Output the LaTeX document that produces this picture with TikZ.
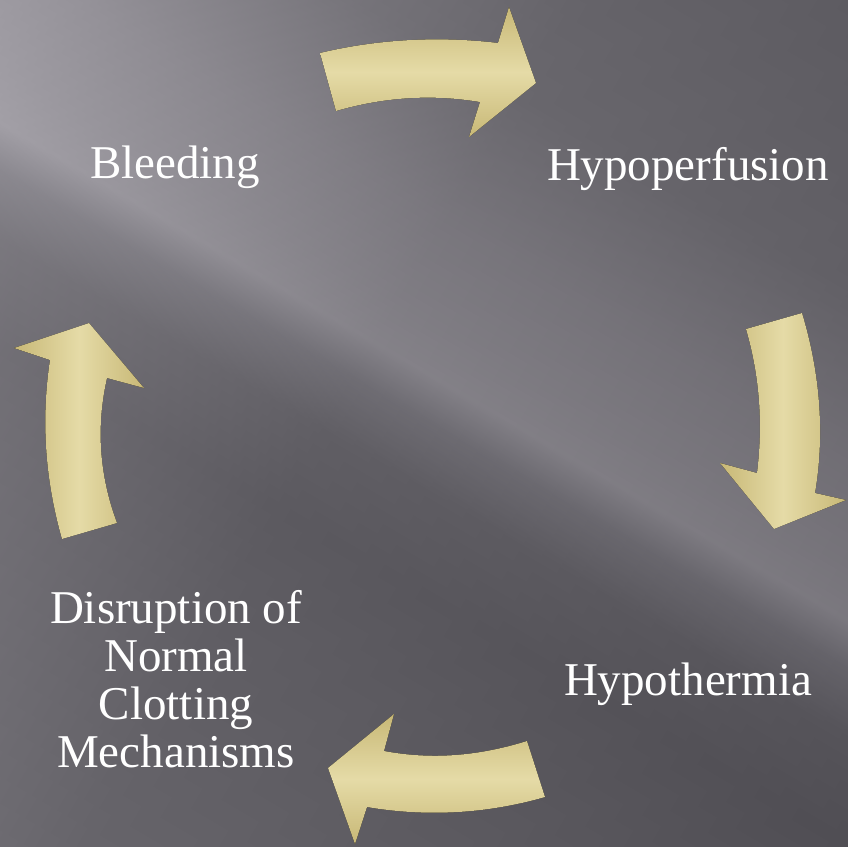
\documentclass[tikz,border=0pt]{standalone}
\usepackage{fontspec}
\setmainfont{Liberation Serif}
\usepackage{xcolor}
\usepackage{tikz}

\definecolor{bgA}{RGB}{100,98,104}
\definecolor{bgB}{RGB}{86,84,90}
\definecolor{bgC}{RGB}{80,78,84}
\definecolor{bgD}{RGB}{88,86,92}
\definecolor{bgE}{RGB}{112,110,117}
\definecolor{bgF}{RGB}{148,145,152}
\definecolor{bgG}{RGB}{140,137,144}
\definecolor{bgH}{RGB}{128,125,132}
\definecolor{bgI}{RGB}{102,100,106}
\definecolor{bgJ}{RGB}{88,86,92}
\definecolor{swA}{RGB}{195,192,199}
\definecolor{swB}{RGB}{110,108,114}
\definecolor{swC}{RGB}{80,78,84}
\definecolor{goldD}{RGB}{200,184,118}
\definecolor{goldL}{RGB}{229,219,167}

% streak across the slide, and the sweep along it
\pgfdeclareverticalshading{bgstreak}{100bp}{color(0bp)=(bgA); color(24bp)=(bgA);
  color(37.5bp)=(bgB); color(42bp)=(bgC); color(45.8bp)=(bgD); color(48.3bp)=(bgE);
  color(50bp)=(bgF); color(52bp)=(bgG); color(56bp)=(bgH); color(62bp)=(bgI);
  color(74bp)=(bgJ); color(100bp)=(bgJ)}
\pgfdeclarehorizontalshading{bgsweep}{100bp}{color(0bp)=(swA); color(26.8bp)=(swA);
  color(47.6bp)=(swB); color(75bp)=(swC); color(100bp)=(swC)}

\begin{document}
\begin{tikzpicture}[x=1pt,y=-1pt,
  lbl/.style={text=white,font=\fontsize{47}{48}\selectfont,inner sep=0pt},
  goldh/.style={top color=goldD,bottom color=goldD,middle color=goldL},
  goldv/.style={left color=goldD,right color=goldD,middle color=goldL}]
  \useasboundingbox (0,0) rectangle (848,846);

  % background
  \begin{scope}
    \clip (0,0) rectangle (848,846);
    \shade[shading=bgstreak,shading angle=-30.4] (-176,-228) rectangle (1024,972);
    \shade[shading=bgsweep,shading angle=-30.4,opacity=0.4] (-176,-228) rectangle (1024,972);
  \end{scope}

  % block arrows of the cycle
  \fill[goldh] (320,53) .. controls (379,39) and (439,36) .. (498,43)
    -- (509,7) -- (536,83) -- (469,137) -- (480,102)
    .. controls (432,94) and (384,97) .. (336,111) -- cycle;
  \fill[goldv] (746,329) -- (802,313) .. controls (820,373) and (825,433) .. (815,493)
    -- (846,500) -- (774,529) -- (720,463) -- (757,473)
    .. controls (763,425) and (760,377) .. (746,329) -- cycle;
  \fill[goldh] (527,741) -- (545,797) .. controls (486,814) and (426,817) .. (367,807)
    -- (355,844) -- (328,768) -- (394,714) -- (384,751)
    .. controls (432,760) and (479,756) .. (527,741) -- cycle;
  \fill[goldv] (62,539) -- (117,523) .. controls (99,475) and (96,426) .. (107,378)
    -- (144,388) -- (89,323) -- (14,348) -- (50,360)
    .. controls (41,420) and (45,479) .. (62,539) -- cycle;

  % labels
  \node[lbl,anchor=base] (bleeding) at (175,178) {Bleeding};
  \node[lbl,anchor=base] (hypoperf) at (688,180) {Hypoperfusion};
  \node[lbl,anchor=base] (hypotherm) at (688,695) {Hypothermia};
  \node[lbl,align=center,anchor=base] (disrupt) at (176,767)
    {Disruption of\\Normal\\Clotting\\Mechanisms};
\end{tikzpicture}
\end{document}
